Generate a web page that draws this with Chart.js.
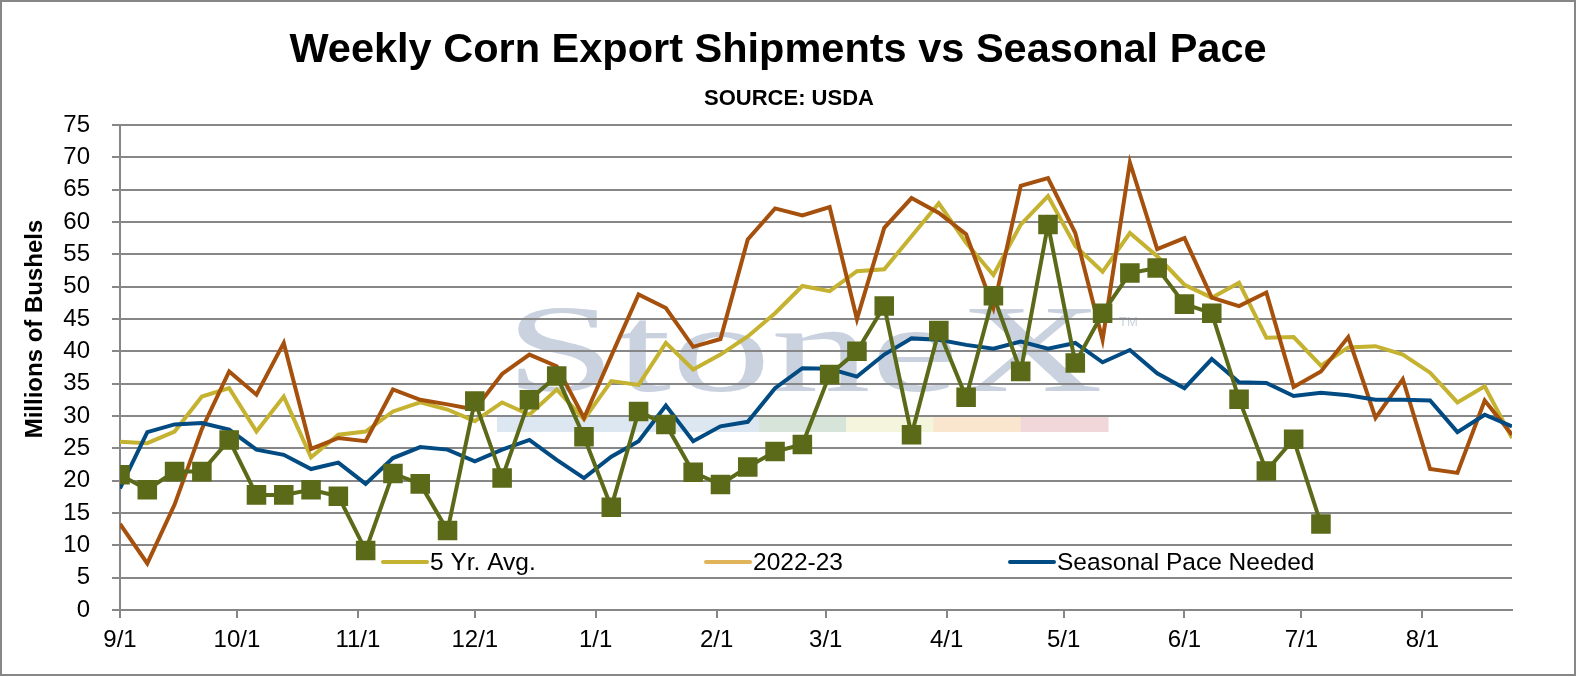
<!DOCTYPE html>
<html>
<head>
<meta charset="utf-8">
<title>Weekly Corn Export Shipments vs Seasonal Pace</title>
<script src="https://cdn.jsdelivr.net/npm/chart.js@4.4.1/dist/chart.umd.min.js"></script>
<style>
  html, body { margin: 0; padding: 0; background: #fff; }
  #wrap { width: 1577px; height: 677px; position: relative; }
</style>
</head>
<body>
<div id="wrap"><canvas id="cornChart"></canvas></div>
<script>
// weekly values, first week starts 9/1
const fiveYrAvg = [26.0, 25.8, 27.6, 33.0, 34.3, 27.6, 33.0, 23.6, 27.1, 27.6, 30.7, 32.1, 31.0,
  29.2, 32.1, 30.2, 34.1, 29.5, 35.4, 34.8, 41.3, 37.2, 39.5, 42.3, 45.9, 50.1, 49.3, 52.4, 52.7,
  57.8, 62.9, 56.8, 51.8, 59.6, 64.0, 56.3, 52.3, 58.3, 54.7, 50.3, 48.3, 50.6, 42.1, 42.2, 37.8,
  40.6, 40.8, 39.5, 36.7, 32.1, 34.6, 26.6];
const lastYear = [13.3, 7.2, 16.3, 28.0, 36.9, 33.3, 41.3, 24.9, 26.6, 26.1, 34.1, 32.5, 31.8,
  31.0, 36.5, 39.5, 37.7, 29.7, 39.3, 48.8, 46.7, 40.7, 41.9, 57.3, 62.1, 61.0, 62.3, 45.0, 59.1,
  63.7, 61.4, 58.1, 46.7, 65.6, 66.8, 58.3, 41.8, 69.2, 55.8, 57.5, 48.3, 47.0, 49.1, 34.5, 36.9,
  42.2, 29.7, 35.7, 21.8, 21.2, 32.4, 27.1];
const paceNeeded = [18.8, 27.5, 28.7, 28.9, 27.9, 24.8, 24.0, 21.8, 22.8, 19.5, 23.5, 25.2, 24.8,
  23.0, 24.8, 26.3, 23.2, 20.4, 23.7, 26.1, 31.6, 26.1, 28.4, 29.1, 34.3, 37.4, 37.3, 36.1, 39.5,
  42.0, 41.8, 41.0, 40.4, 41.5, 40.4, 41.3, 38.3, 40.2, 36.6, 34.3, 38.8, 35.2, 35.1, 33.1, 33.6,
  33.2, 32.5, 32.5, 32.4, 27.5, 30.2, 28.4];
const currentYear = [20.9, 18.6, 21.4, 21.4, 26.3, 17.8, 17.8, 18.6, 17.6, 9.2, 21.1, 19.5, 12.3,
  32.3, 20.4, 32.5, 36.2, 26.8, 15.9, 30.7, 28.7, 21.3, 19.4, 22.1, 24.5, 25.6, 36.4, 40.0, 47.0,
  27.1, 43.2, 32.9, 48.6, 36.9, 59.6, 38.2, 45.9, 52.1, 52.9, 47.3, 45.9, 32.6, 21.5, 26.4, 13.3];

const monthLabels = ["9/1", "10/1", "11/1", "12/1", "1/1", "2/1", "3/1", "4/1", "5/1", "6/1", "7/1", "8/1"];
const yTicks = { min: 0, max: 75, step: 5 };

const legendItems = [
  { label: "5 Yr. Avg.", color: "#c4b230" },
  { label: "2022-23", color: "#e0b45a" },
  { label: "Seasonal Pace Needed", color: "#014b82" }
];

const DAY = 86400000;
const seasonStart = Date.UTC(2022, 8, 1);
const monthDays = monthLabels.map(l => {
  const [m, d] = l.split("/").map(Number);
  const yr = m >= 9 ? 2022 : 2023;
  return Math.round((Date.UTC(yr, m - 1, d) - seasonStart) / DAY);
});

const toPoints = arr => arr.map((v, i) => ({ x: i * 7, y: v }));
const lastDay = (fiveYrAvg.length - 1) * 7;

const FONT = "'Liberation Sans', Arial, sans-serif";
Chart.defaults.font.family = FONT;
Chart.defaults.color = "#000";

const gridGray = "#878787";

const decorPlugin = {
  id: "decor",
  beforeDraw(chart) {
    const ctx = chart.ctx;
    ctx.save();
    // StoneX watermark behind the grid
    ctx.font = "125px 'Liberation Serif', serif";
    const w = ctx.measureText("StoneX").width;
    ctx.translate(505, 391);
    ctx.scale(598 / w, 1);
    ctx.fillStyle = "#c9d2de";
    ctx.textBaseline = "alphabetic";
    ctx.fillText("StoneX", 0, 0);
    ctx.setTransform(1, 0, 0, 1, 0, 0);
    ctx.font = "13px " + FONT;
    ctx.fillText("TM", 1119, 326);
    const bar = ["#dce7f1", "#dce7f1", "#dce7f1", "#d6e4da", "#f5f5dd", "#fae6cf", "#f1d6da"];
    const segW = (1108 - 497) / bar.length;
    bar.forEach((c, i) => {
      ctx.fillStyle = c;
      ctx.fillRect(497 + i * segW, 417, segW + 0.5, 15);
    });
    ctx.restore();
  },
  afterDraw(chart) {
    const ctx = chart.ctx;
    ctx.save();
    // outer frame
    ctx.strokeStyle = gridGray;
    ctx.lineWidth = 2;
    ctx.strokeRect(1, 1, 1574, 674);

    ctx.fillStyle = "#000";
    ctx.textAlign = "center";
    ctx.textBaseline = "alphabetic";
    ctx.font = "bold 41.5px " + FONT;
    ctx.fillText("Weekly Corn Export Shipments vs Seasonal Pace", 778, 62);
    ctx.font = "bold 22px " + FONT;
    ctx.fillText("SOURCE: USDA", 789, 105);

    ctx.save();
    ctx.translate(35, 329);
    ctx.rotate(-Math.PI / 2);
    ctx.textBaseline = "middle";
    ctx.font = "bold 24px " + FONT;
    ctx.fillText("Millions of Bushels", 0, 0);
    ctx.restore();

    // legend sitting inside the plot
    const legendX = [383, 706, 1010];
    ctx.font = "24.5px " + FONT;
    ctx.textAlign = "left";
    ctx.textBaseline = "middle";
    ctx.lineCap = "round";
    ctx.lineWidth = 4;
    legendItems.forEach((it, i) => {
      const x = legendX[i];
      ctx.strokeStyle = it.color;
      ctx.beginPath();
      ctx.moveTo(x, 562);
      ctx.lineTo(x + 44, 562);
      ctx.stroke();
      ctx.fillStyle = "#000";
      ctx.fillText(it.label, x + 47, 563);
    });
    ctx.restore();
  }
};

const ctx = document.getElementById("cornChart").getContext("2d");
const cornChart = new Chart(ctx, {
  type: "line",
  data: {
    datasets: [
      {
        label: "2023-24",
        data: toPoints(currentYear),
        borderColor: "#5b6a18",
        backgroundColor: "#5b6a18",
        borderWidth: 4,
        pointStyle: "rect",
        pointRadius: 11,
        pointHoverRadius: 11,
        tension: 0
      },
      {
        label: "Seasonal Pace Needed",
        data: toPoints(paceNeeded),
        borderColor: "#014b82",
        borderWidth: 4,
        pointRadius: 0,
        tension: 0
      },
      {
        label: "2022-23",
        data: toPoints(lastYear),
        borderColor: "#a5500c",
        borderWidth: 4,
        pointRadius: 0,
        tension: 0
      },
      {
        label: "5 Yr. Avg.",
        data: toPoints(fiveYrAvg),
        borderColor: "#c4b230",
        borderWidth: 4,
        pointRadius: 0,
        tension: 0
      }
    ]
  },
  options: {
    responsive: true,
    maintainAspectRatio: false,
    animation: false,
    layout: { padding: { top: 125, right: 65, bottom: 0, left: 0 } },
    plugins: {
      legend: { display: false },
      title: { display: false },
      tooltip: { enabled: false }
    },
    scales: {
      x: {
        type: "linear",
        min: 0,
        max: lastDay,
        afterBuildTicks: scale => {
          scale.ticks = monthDays.map(v => ({ value: v }));
        },
        afterFit: scale => { scale.height = 67; },
        ticks: {
          autoSkip: false,
          maxRotation: 0,
          padding: 8,
          font: { size: 24 },
          callback: (value, index) => monthLabels[index]
        },
        grid: {
          drawOnChartArea: false,
          drawTicks: true,
          tickLength: 8,
          color: gridGray,
          lineWidth: 2
        },
        border: { color: gridGray, width: 2 }
      },
      y: {
        min: yTicks.min,
        max: yTicks.max,
        afterFit: scale => { scale.width = 120; },
        ticks: {
          stepSize: yTicks.step,
          padding: 22,
          font: { size: 24 }
        },
        grid: {
          color: gridGray,
          lineWidth: 2,
          tickLength: 8
        },
        border: { color: gridGray, width: 2 }
      }
    }
  },
  plugins: [decorPlugin]
});
</script>
</body>
</html>
